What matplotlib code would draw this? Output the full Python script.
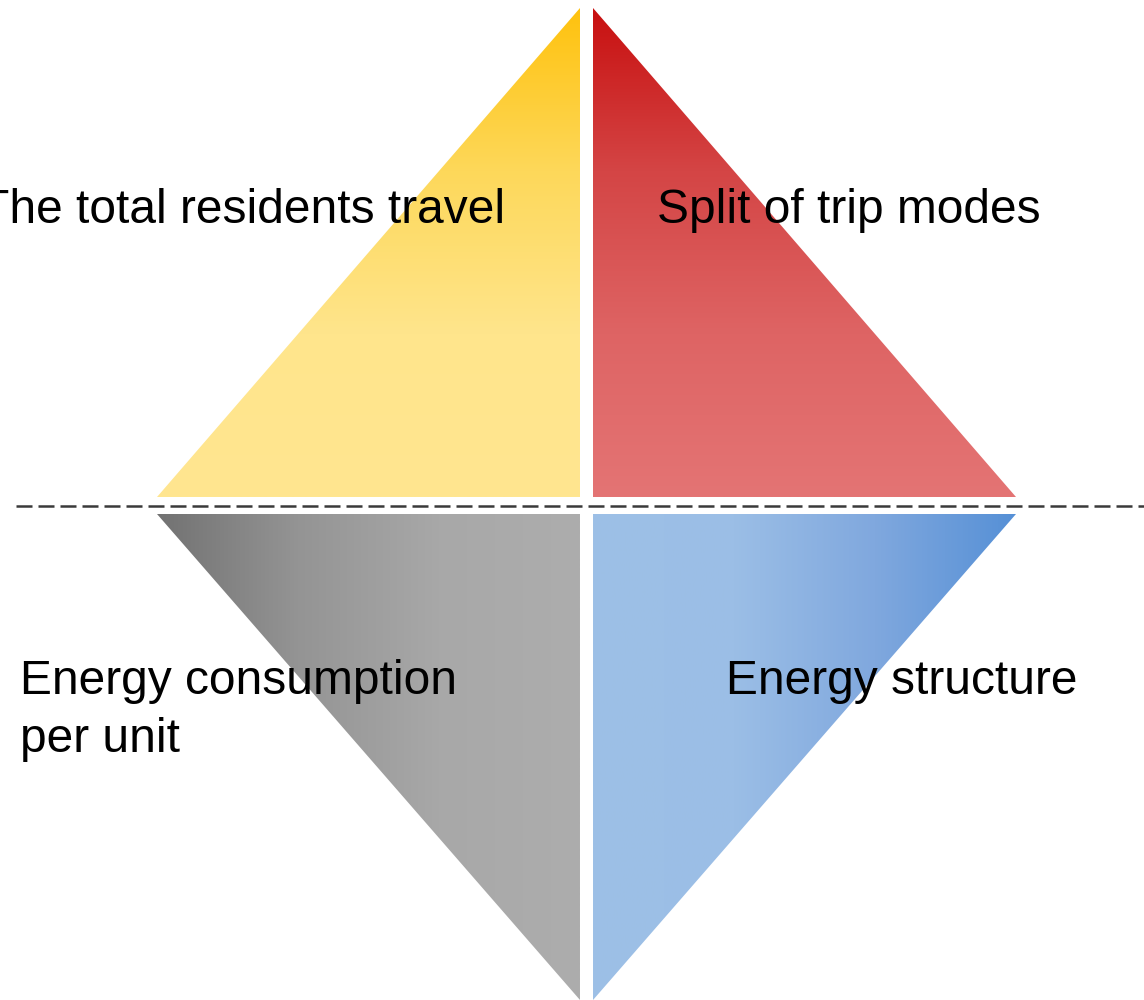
import numpy as np
import matplotlib.pyplot as plt
from matplotlib.colors import LinearSegmentedColormap
from matplotlib.patches import Polygon

# Four factors of the diamond
labels = ['The total residents travel', 'Split of trip modes',
          'Energy consumption', 'per unit', 'Energy structure']
# gradient stops for each quadrant (start -> end)
grad_yellow = ['#FFC20E', '#FDD85A', '#FFE58C', '#FFE690']
grad_red = ['#C81010', '#D44545', '#DE6464', '#E47474']
grad_gray = ['#727272', '#949494', '#A8A8A8', '#ADADAD']
grad_blue = ['#9DC0E6', '#9BBEE6', '#80A8DE', '#5690D6']

W, H = 1144, 1000
fig = plt.figure(figsize=(W / 100, H / 100), dpi=100)
ax = fig.add_axes([0, 0, 1, 1])
ax.set_xlim(0, W)
ax.set_ylim(H, 0)
ax.axis('off')


def gradient_triangle(verts, stops, vertical):
    cmap = LinearSegmentedColormap.from_list('g', stops)
    xs = [v[0] for v in verts]
    ys = [v[1] for v in verts]
    x0, x1, y0, y1 = min(xs), max(xs), min(ys), max(ys)
    t = np.linspace(0, 1, 256)
    img = t[:, None] if vertical else t[None, :]
    im = ax.imshow(img, cmap=cmap, extent=(x0, x1, y1, y0), aspect='auto',
                   interpolation='bilinear', zorder=1)
    poly = Polygon(verts, closed=True, facecolor='none', edgecolor='none')
    ax.add_patch(poly)
    im.set_clip_path(poly)


xl, xm1, xm2, xr = 157, 580, 593, 1016
ytop, ymid1, ymid2, ybot = 8, 497, 514, 1000

gradient_triangle([(xl, ymid1), (xm1, ytop), (xm1, ymid1)], grad_yellow, True)
gradient_triangle([(xm2, ytop), (xr, ymid1), (xm2, ymid1)], grad_red, True)
gradient_triangle([(xl, ymid2), (xm1, ymid2), (xm1, ybot)], grad_gray, False)
gradient_triangle([(xm2, ymid2), (xr, ymid2), (xm2, ybot)], grad_blue, False)

# dashed divider
ax.plot([16, W], [506, 506], color='#3a3a3a', lw=1.8,
        linestyle=(0, (6.4, 2.4)), zorder=2)

fs = 34.5
kw = dict(fontsize=fs, family='Liberation Sans', va='baseline', zorder=3)
ax.text(505, 223, labels[0], ha='right', **kw)
ax.text(657, 223, labels[1], ha='left', **kw)
ax.text(20, 694, labels[2], ha='left', **kw)
ax.text(20, 752, labels[3], ha='left', **kw)
ax.text(726, 694, labels[4], ha='left', **kw)

fig.savefig('out.png', dpi=100)
